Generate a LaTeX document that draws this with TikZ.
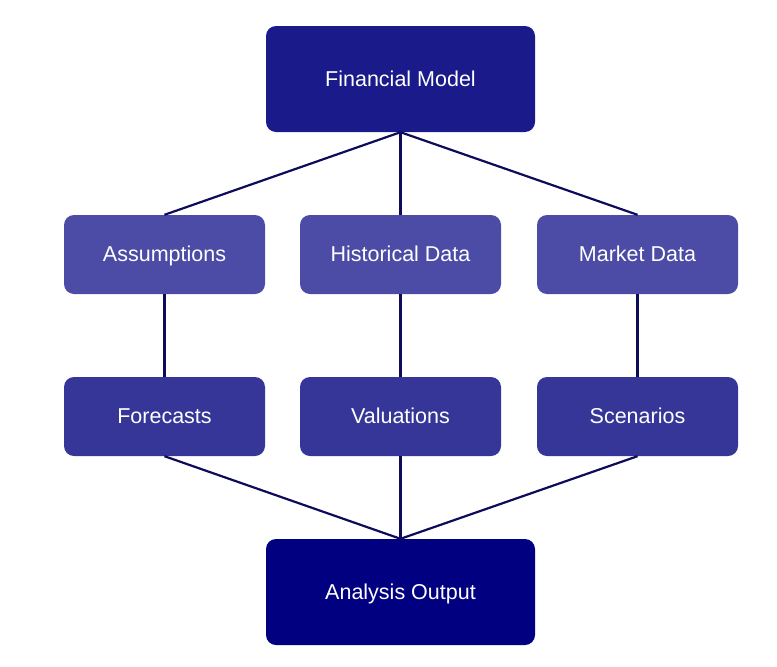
\documentclass[tikz,border=0pt]{standalone}
\usepackage{fontspec}
\setmainfont{Liberation Sans}
\usepackage{tikz}

\definecolor{topblue}{RGB}{26,26,138}
\definecolor{midblue}{RGB}{76,76,166}
\definecolor{lowblue}{RGB}{54,54,152}
\definecolor{endblue}{RGB}{0,0,128}
\definecolor{linkblue}{RGB}{12,12,90}

\tikzset{
  box/.style={rectangle,rounded corners=10pt,draw=none,text=white,
    font=\fontsize{21.5}{25}\selectfont,inner sep=0pt,
    text height=15.5pt,text depth=1.5pt},
  bigbox/.style={box,minimum width=269pt,minimum height=106pt},
  smallbox/.style={box,minimum width=201pt,minimum height=79pt},
  link/.style={draw=linkblue,line width=2.2pt}
}

\begin{document}
\begin{tikzpicture}[x=1pt,y=-1pt]
   \useasboundingbox (0,0) rectangle (777,667);
   % Top
   \node[bigbox,fill=topblue] (model) at (400.5,79) {Financial Model};
   % Inputs
   \node[smallbox,fill=midblue] (assume) at (164.5,254.5) {Assumptions};
   \node[smallbox,fill=midblue] (hist) at (400.5,254.5) {Historical Data};
   \node[smallbox,fill=midblue] (market) at (637.5,254.5) {Market Data};
   % Results
   \node[smallbox,fill=lowblue] (fore) at (164.5,416.5) {Forecasts};
   \node[smallbox,fill=lowblue] (value) at (400.5,416.5) {Valuations};
   \node[smallbox,fill=lowblue] (scen) at (637.5,416.5) {Scenarios};
   % Bottom
   \node[bigbox,fill=endblue] (output) at (400.5,592) {Analysis Output};
   % Links
   \draw[link] (model.south) -- (assume.north);
   \draw[link] (model.south) -- (hist.north);
   \draw[link] (model.south) -- (market.north);
   \draw[link] (assume.south) -- (fore.north);
   \draw[link] (hist.south) -- (value.north);
   \draw[link] (market.south) -- (scen.north);
   \draw[link] (fore.south) -- (output.north);
   \draw[link] (value.south) -- (output.north);
   \draw[link] (scen.south) -- (output.north);
\end{tikzpicture}
\end{document}
